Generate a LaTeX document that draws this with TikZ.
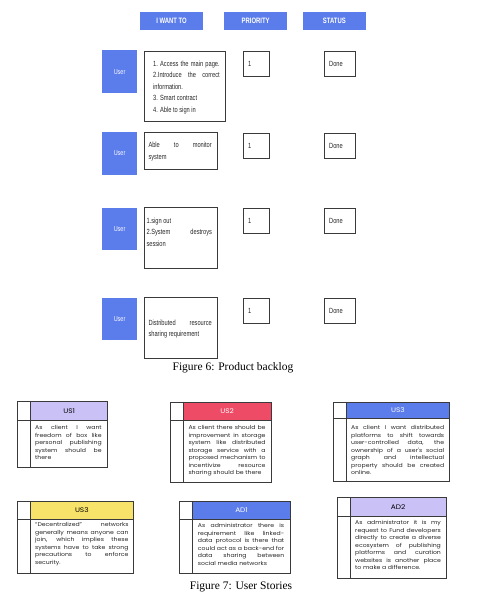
\documentclass[tikz,border=0pt]{standalone}
\usepackage{fontspec}
\usepackage{tikz}
\usetikzlibrary{positioning}
\newfontfamily\narrowsans[FakeStretch=0.76]{Liberation Sans}
\newfontfamily\storyfont[FakeStretch=1.12]{Poppins}
\newfontfamily\capfont{Liberation Serif}
\definecolor{hdrblue}{HTML}{5B7CEB}
\definecolor{lavender}{HTML}{CAC2F7}
\definecolor{pinkred}{HTML}{EE4B67}
\definecolor{storyyellow}{HTML}{F8E36A}
\definecolor{edge}{HTML}{3A3A3A}

\begin{document}
\begin{tikzpicture}[x=1pt, y=-1pt,
    colhead/.style={fill=hdrblue, text=white, anchor=north west, inner sep=0pt,
      minimum height=18pt, font=\narrowsans\bfseries\fontsize{7.8}{8}\selectfont},
    userbox/.style={fill=hdrblue, text=white, anchor=north west, inner sep=0pt,
      minimum width=35.3pt, minimum height=43pt, font=\narrowsans\fontsize{7.2}{8}\selectfont},
    cellbox/.style={draw=edge, line width=1pt, anchor=north west, inner sep=0pt},
    celltext/.style={anchor=west, inner sep=0pt, text=black!85,
      font=\narrowsans\fontsize{7.5}{8}\selectfont},
    wanttext/.style={anchor=north west, inner sep=0pt, align=justify, text=black!85,
      font=\narrowsans\fontsize{7.5}{11.5}\selectfont},
    cardbox/.style={draw=edge, line width=0.9pt, anchor=north west, inner sep=0pt},
    cardhead/.style={anchor=north west, inner sep=0pt,
      font=\storyfont\fontsize{6.6}{7}\selectfont},
    cardtext/.style={anchor=north west, inner sep=0pt, align=justify, text=black!85,
      font=\storyfont\fontsize{5.5}{7.5}\selectfont},
    caption/.style={inner sep=0pt, font=\capfont\fontsize{11.5}{13}\selectfont}]
  \useasboundingbox (0,0) rectangle (482,597);

  % column heads
  \node[colhead, minimum width=62.7pt] (hwant) at (140,12) {I WANT TO};
  \node[colhead, minimum width=63pt] (hprio) at (224,12) {PRIORITY};
  \node[colhead, minimum width=63pt] (hstat) at (302.7,12) {STATUS};

  % backlog rows
  \node[userbox] (user1) at (101.7,50) {User};
  \node[userbox, minimum height=43.3pt] (user2) at (101.7,131.7) {User};
  \node[userbox, minimum height=42.7pt] (user3) at (101.7,207.3) {User};
  \node[userbox, minimum height=42.7pt] (user4) at (101.7,297.3) {User};

  \node[cellbox, minimum width=80.7pt, minimum height=70.3pt] (want1) at (144,50.7) {};
  \node[cellbox, minimum width=73pt, minimum height=36.4pt] (want2) at (144,132.3) {};
  \node[cellbox, minimum width=73pt, minimum height=60.4pt] (want3) at (144,207.3) {};
  \node[cellbox, minimum width=73pt, minimum height=60.4pt] (want4) at (144,297.3) {};

  \node[wanttext, text width=66.5pt] (wtext1) at ([shift={(9,10)}]want1.north west)
    {1.~Access the main page.\linebreak 2.Introduce the correct\linebreak information.\\
     3. Smart contract\\ 4. Able to sign in};
  \node[wanttext, text width=63.3pt] (wtext2) at ([shift={(4.3,10)}]want2.north west)
    {Able to monitor\linebreak system};
  \node[wanttext, text width=65.5pt] (wtext3) at ([shift={(2.3,10.3)}]want3.north west)
    {1.sign out\\ 2.System destroys\linebreak session};
  \node[wanttext, text width=63.3pt] (wtext4) at ([shift={(4.3,22.3)}]want4.north west)
    {Distributed resource\linebreak sharing requirement};

  \foreach \r/\y in {1/51, 2/132.7, 3/207.7, 4/298.3} {
    \node[cellbox, minimum width=25.7pt, minimum height=25pt] (prio\r) at (243,\y) {};
    \node[celltext] (prionum\r) at ([shift={(5,13)}]prio\r.north west) {1};
    \node[cellbox, minimum width=31pt, minimum height=25pt] (stat\r) at (324,\y) {};
    \node[celltext] (statdone\r) at ([shift={(5,13)}]stat\r.north west) {Done};
  }

  \node[caption] (cap6) at (233,367.7) {Figure 6: Product backlog};

  % user story cards, top row
  \node[cardhead, fill=lavender, minimum width=76.6pt, minimum height=19pt] (us1h) at (30.7,401) {US1};
  \node[cardbox, minimum width=90pt, minimum height=65.7pt] (us1) at (17.3,401) {};
  \draw[edge, line width=0.9pt] (us1.west |- us1h.south) -- (us1h.south east);
  \draw[edge, line width=0.9pt] (us1h.north west) -- (us1h.north west |- us1.south);
  \node[cardtext, text width=66.5pt] (us1t) at (35,425.5)
    {As client I want\linebreak freedom of box like\linebreak personal publishing\linebreak
     system should be\linebreak there};

  \node[cardhead, fill=pinkred, text=white, minimum width=87.4pt, minimum height=18.3pt] (us2h) at (183.3,401.7) {US2};
  \node[cardbox, minimum width=100.7pt, minimum height=80.6pt] (us2) at (170,401.7) {};
  \draw[edge, line width=0.9pt] (us2.west |- us2h.south) -- (us2h.south east);
  \draw[edge, line width=0.9pt] (us2h.north west) -- (us2h.north west |- us2.south);
  \node[cardtext, text width=77pt] (us2t) at (188.3,425.5)
    {As client there should be\linebreak improvement in storage\linebreak
     system like distributed\linebreak storage service with a\linebreak
     proposed mechanism to\linebreak incentivize resource\linebreak sharing should be there};

  \node[cardhead, fill=hdrblue, text=white, minimum width=102pt, minimum height=16.6pt] (us3h) at (346.7,401.7) {US3};
  \node[cardbox, minimum width=115.4pt, minimum height=79.3pt] (us3) at (333.3,401.7) {};
  \draw[edge, line width=0.9pt] (us3.west |- us3h.south) -- (us3h.south east);
  \draw[edge, line width=0.9pt] (us3h.north west) -- (us3h.north west |- us3.south);
  \node[cardtext, text width=93pt] (us3t) at (351,425.5)
    {As client I want distributed\linebreak platforms to shift towards\linebreak
     user-controlled data, the\linebreak ownership of a user's social\linebreak
     graph and intellectual\linebreak property should be created\linebreak online.};

  % user story cards, bottom row
  \node[cardhead, fill=storyyellow, minimum width=103.3pt, minimum height=18pt] (us4h) at (30,501) {US3};
  \node[cardbox, minimum width=116pt, minimum height=72.3pt] (us4) at (17.3,501) {};
  \draw[edge, line width=0.9pt] (us4.west |- us4h.south) -- (us4h.south east);
  \draw[edge, line width=0.9pt] (us4h.north west) -- (us4h.north west |- us4.south);
  \node[cardtext, text width=93.3pt] (us4t) at (35,522.2)
    {“Decentralized” networks\linebreak generally means anyone can\linebreak
     join, which implies these\linebreak systems have to take strong\linebreak
     precautions to enforce\linebreak security.};

  \node[cardhead, fill=hdrblue, text=white, minimum width=97.3pt, minimum height=18pt] (ad1h) at (192.7,501) {AD1};
  \node[cardbox, minimum width=110.7pt, minimum height=72.3pt] (ad1) at (179.3,501) {};
  \draw[edge, line width=0.9pt] (ad1.west |- ad1h.south) -- (ad1h.south east);
  \draw[edge, line width=0.9pt] (ad1h.north west) -- (ad1h.north west |- ad1.south);
  \node[cardtext, text width=86.3pt] (ad1t) at (197.7,523.2)
    {As administrator there is\linebreak requirement like linked-\linebreak
     data protocol is there that\linebreak could act as a back-end for\linebreak
     data sharing between\linebreak social media networks};

  \node[cardhead, fill=lavender, minimum width=96pt, minimum height=18.4pt] (ad2h) at (350,497.3) {AD2};
  \node[cardbox, minimum width=109.3pt, minimum height=80.4pt] (ad2) at (336.7,497.3) {};
  \draw[edge, line width=0.9pt] (ad2.west |- ad2h.south) -- (ad2h.south east);
  \draw[edge, line width=0.9pt] (ad2h.north west) -- (ad2h.north west |- ad2.south);
  \node[cardtext, text width=85.7pt] (ad2t) at (355,520.5)
    {As administrator it is my\linebreak request to Fund developers\linebreak
     directly to create a diverse\linebreak ecosystem of publishing\linebreak
     platforms and curation\linebreak websites is another place\linebreak
     to make a difference.};

  \node[caption] (cap7) at (241,586.5) {Figure 7: User Stories};
\end{tikzpicture}
\end{document}
